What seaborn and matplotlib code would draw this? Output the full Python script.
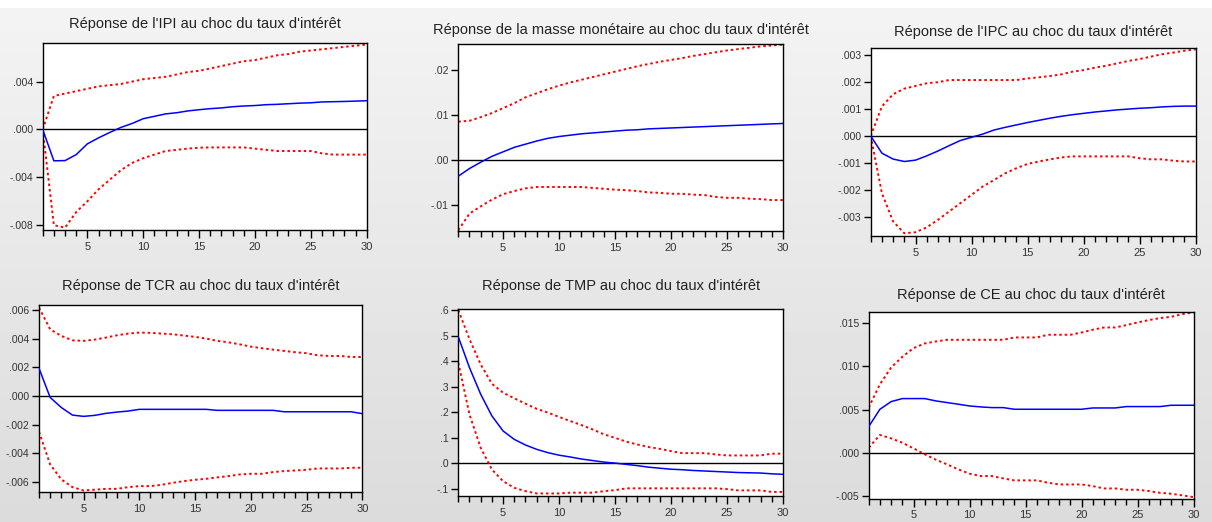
import numpy as np
import pandas as pd
import seaborn as sns
import matplotlib.pyplot as plt
from matplotlib.ticker import FuncFormatter, MultipleLocator

horizons = list(range(1, 31))

# Réponse de l'IPI
ipi_resp = [0, -0.00262, -0.0026, -0.0021, -0.0012, -0.0007, -0.00025, 0.00017, 0.0005, 0.0009,
            0.0011, 0.0013, 0.0014, 0.00155, 0.00165, 0.00174, 0.0018, 0.0019, 0.00196, 0.0020,
            0.00207, 0.0021, 0.00215, 0.0022, 0.00223, 0.0023, 0.00232, 0.00234, 0.00237, 0.0024]
ipi_up = [0, 0.0028, 0.003, 0.0032, 0.0034, 0.0036, 0.0037, 0.0038, 0.004, 0.0042,
          0.0043, 0.0044, 0.0046, 0.0048, 0.0049, 0.0051, 0.0053, 0.0055, 0.0057, 0.0058,
          0.006, 0.0062, 0.0063, 0.0065, 0.0066, 0.0067, 0.0068, 0.0069, 0.007, 0.0071]
ipi_low = [0, -0.008, -0.0082, -0.0069, -0.006, -0.005, -0.0042, -0.0034, -0.0028, -0.0024,
           -0.0021, -0.0018, -0.0017, -0.0016, -0.00152, -0.0015, -0.0015, -0.0015, -0.0015, -0.0016,
           -0.0017, -0.0018, -0.0018, -0.0018, -0.0018, -0.002, -0.0021, -0.0021, -0.0021, -0.0021]

# Réponse de la masse monétaire
mm_resp = [-0.0035, -0.0018, -0.0004, 0.0009, 0.0019, 0.0029, 0.0036, 0.0043, 0.0049, 0.0053,
           0.0056, 0.0059, 0.0061, 0.0063, 0.0065, 0.0067, 0.0068, 0.007, 0.0071, 0.0072,
           0.0073, 0.0074, 0.0075, 0.0076, 0.0077, 0.0078, 0.0079, 0.008, 0.0081, 0.0082]
mm_up = [0.0086, 0.0088, 0.0096, 0.0105, 0.0116, 0.0127, 0.014, 0.0149, 0.0158, 0.0166,
         0.0173, 0.0179, 0.0185, 0.0191, 0.0197, 0.0203, 0.0209, 0.0214, 0.0219, 0.0223,
         0.0227, 0.0232, 0.0236, 0.024, 0.0244, 0.0247, 0.025, 0.0253, 0.0255, 0.0257]
mm_low = [-0.0155, -0.0118, -0.0102, -0.0087, -0.0075, -0.0068, -0.0062, -0.0059, -0.0059, -0.0059,
          -0.0059, -0.0059, -0.0061, -0.0063, -0.0065, -0.0066, -0.0068, -0.0071, -0.0072, -0.0074,
          -0.0074, -0.0076, -0.0077, -0.0081, -0.0083, -0.0083, -0.0085, -0.0086, -0.0088, -0.0088]

# Réponse de l'IPC
ipc_resp = [0, -0.00064, -0.00086, -0.00095, -0.0009, -0.00074, -0.00056, -0.00036, -0.00017, -0.00005,
            0.00007, 0.00022, 0.00032, 0.00041, 0.0005, 0.00058, 0.00066, 0.00073, 0.00079, 0.00084,
            0.00089, 0.00093, 0.00097, 0.001, 0.00103, 0.00105, 0.00108, 0.0011, 0.00111, 0.00111]
ipc_up = [0, 0.0011, 0.00155, 0.00176, 0.00186, 0.00196, 0.002, 0.00208, 0.00208, 0.00208,
          0.00208, 0.00208, 0.00208, 0.00208, 0.00214, 0.00218, 0.00223, 0.00229, 0.00239, 0.00245,
          0.00254, 0.00261, 0.0027, 0.00279, 0.00286, 0.00295, 0.00304, 0.0031, 0.00317, 0.00322]
ipc_low = [0, -0.00213, -0.00318, -0.00362, -0.00358, -0.0034, -0.00312, -0.00281, -0.0025, -0.00219,
           -0.00188, -0.00164, -0.00139, -0.0012, -0.00104, -0.00095, -0.00087, -0.0008, -0.00076, -0.00076,
           -0.00076, -0.00076, -0.00076, -0.00076, -0.00083, -0.00087, -0.00087, -0.00092, -0.00095, -0.00095]

# Réponse de TCR
tcr_resp = [0.00193, -0.0001, -0.0008, -0.00133, -0.00142, -0.00135, -0.00121, -0.00112, -0.00105, -0.00093,
            -0.00093, -0.00093, -0.00093, -0.00093, -0.00093, -0.00093, -0.001, -0.001, -0.001, -0.001,
            -0.001, -0.001, -0.0011, -0.0011, -0.0011, -0.0011, -0.0011, -0.0011, -0.0011, -0.00123]
tcr_up = [0.00616, 0.00465, 0.00419, 0.00388, 0.00384, 0.00393, 0.00407, 0.00423, 0.00435, 0.00442,
          0.0044, 0.00435, 0.0043, 0.00421, 0.00412, 0.004, 0.00384, 0.00374, 0.0036, 0.00344,
          0.00333, 0.00323, 0.00314, 0.00305, 0.00298, 0.00284, 0.00279, 0.00279, 0.00272, 0.00272]
tcr_low = [-0.00249, -0.00477, -0.00581, -0.00635, -0.00658, -0.00653, -0.00647, -0.00647, -0.00635, -0.00628,
           -0.00628, -0.00619, -0.00605, -0.00593, -0.00584, -0.00577, -0.00567, -0.00558, -0.00547, -0.00542,
           -0.00542, -0.0053, -0.00523, -0.00519, -0.00514, -0.00505, -0.00505, -0.00505, -0.005, -0.005]

# Réponse de TMP
tmp_resp = [0.495, 0.374, 0.27, 0.185, 0.126, 0.093, 0.071, 0.054, 0.041, 0.031,
            0.024, 0.016, 0.01, 0.004, 0.0, -0.005, -0.01, -0.016, -0.02, -0.024,
            -0.026, -0.029, -0.031, -0.033, -0.035, -0.037, -0.038, -0.039, -0.042, -0.044]
tmp_up = [0.6, 0.486, 0.387, 0.311, 0.276, 0.254, 0.233, 0.213, 0.198, 0.181,
          0.165, 0.149, 0.132, 0.113, 0.099, 0.084, 0.073, 0.063, 0.056, 0.047,
          0.039, 0.039, 0.039, 0.034, 0.03, 0.03, 0.03, 0.03, 0.037, 0.037]
tmp_low = [0.394, 0.191, 0.06, -0.025, -0.071, -0.097, -0.11, -0.119, -0.119, -0.119,
           -0.116, -0.116, -0.116, -0.11, -0.106, -0.099, -0.099, -0.099, -0.099, -0.099,
           -0.099, -0.099, -0.099, -0.099, -0.102, -0.107, -0.107, -0.107, -0.113, -0.113]

# Réponse de CE
ce_resp = [0.00304, 0.00504, 0.00592, 0.00627, 0.00627, 0.00627, 0.006, 0.00581, 0.00562, 0.00542,
           0.00531, 0.00523, 0.00523, 0.00504, 0.00504, 0.00504, 0.00504, 0.00504, 0.00504, 0.00504,
           0.00519, 0.00519, 0.00519, 0.00535, 0.00535, 0.00535, 0.00535, 0.0055, 0.0055, 0.0055]
ce_up = [0.00523, 0.00792, 0.00985, 0.01108, 0.01208, 0.01262, 0.01285, 0.01304, 0.01304, 0.01304,
         0.01304, 0.01304, 0.01304, 0.01331, 0.01331, 0.01331, 0.01362, 0.01362, 0.01362, 0.01388,
         0.0142, 0.01446, 0.01446, 0.01473, 0.01504, 0.01531, 0.01554, 0.01569, 0.016, 0.01619]
ce_low = [0.00062, 0.00208, 0.00169, 0.00119, 0.00054, -0.00015, -0.00077, -0.00131, -0.00188, -0.00238,
          -0.00265, -0.00265, -0.00292, -0.00315, -0.00315, -0.00315, -0.00342, -0.00362, -0.00362, -0.00362,
          -0.00381, -0.00408, -0.00408, -0.00423, -0.00423, -0.00438, -0.00458, -0.00469, -0.00488, -0.00508]

titles = [
    "Réponse de l'IPI au choc du taux d'intérêt",
    "Réponse de la masse monétaire au choc du taux d'intérêt",
    "Réponse de l'IPC au choc du taux d'intérêt",
    "Réponse de TCR au choc du taux d'intérêt",
    "Réponse de TMP au choc du taux d'intérêt",
    "Réponse de CE au choc du taux d'intérêt",
]
series = [
    (ipi_resp, ipi_up, ipi_low),
    (mm_resp, mm_up, mm_low),
    (ipc_resp, ipc_up, ipc_low),
    (tcr_resp, tcr_up, tcr_low),
    (tmp_resp, tmp_up, tmp_low),
    (ce_resp, ce_up, ce_low),
]
# panel layout in pixels: left, right, top, bottom, title center y
W, H = 1212, 522
boxes = [
    (42.7, 366.7, 42.7, 230.0, 24.0),
    (458.3, 783.0, 43.7, 230.7, 30.0),
    (870.7, 1195.7, 48.3, 235.7, 32.3),
    (39.0, 362.3, 305.3, 492.0, 286.0),
    (458.3, 783.0, 309.3, 496.0, 286.0),
    (868.7, 1193.7, 312.0, 498.7, 295.3),
]
ylims = [(-0.0084, 0.00725), (-0.0156, 0.0259), (-0.00371, 0.00326),
         (-0.00669, 0.00632), (-0.129, 0.603), (-0.00526, 0.01624)]
ysteps = [0.004, 0.01, 0.001, 0.002, 0.1, 0.005]
ydecimals = [3, 2, 3, 3, 1, 3]


def eviews_fmt(dec):
    def f(v, pos):
        s = f"{v:.{dec}f}"
        if s.startswith("-0"):
            s = "-" + s[2:]
        elif s.startswith("0"):
            s = s[1:]
        return s
    return FuncFormatter(f)


sns.set_theme(style="ticks")
plt.rcParams["font.family"] = ["Liberation Sans", "DejaVu Sans"]

fig = plt.figure(figsize=(W / 100, H / 100), dpi=100)

# grey gradient background like the EViews screenshot
bg = fig.add_axes([0, 0, 1, 1])
grad = np.linspace(0.955, 0.86, H).reshape(-1, 1)
grad[:8] = 1.0
bg.imshow(grad, cmap="gray", vmin=0, vmax=1, aspect="auto", extent=(0, 1, 0, 1))
bg.set_axis_off()

for i, (title, (resp, up, low)) in enumerate(zip(titles, series)):
    left, right, top, bottom, ty = boxes[i]
    ax = fig.add_axes([left / W, 1 - bottom / H, (right - left) / W, (bottom - top) / H])
    ax.set_facecolor("white")
    df = pd.DataFrame({"h": horizons, "resp": resp, "up": up, "low": low})
    ax.axhline(0, color="black", linewidth=1.0, zorder=1)
    sns.lineplot(data=df, x="h", y="up", ax=ax, color="#ff0000",
                 linewidth=1.4, linestyle=(0, (1.3, 1.5)), zorder=2)
    sns.lineplot(data=df, x="h", y="low", ax=ax, color="#ff0000",
                 linewidth=1.4, linestyle=(0, (1.3, 1.5)), zorder=2)
    sns.lineplot(data=df, x="h", y="resp", ax=ax, color="#0000ff",
                 linewidth=1.1, zorder=3)
    ax.set_xlim(1, 30)
    ax.set_ylim(*ylims[i])
    ax.xaxis.set_major_locator(MultipleLocator(5))
    ax.xaxis.set_minor_locator(MultipleLocator(1))
    ax.yaxis.set_major_locator(MultipleLocator(ysteps[i]))
    ax.yaxis.set_major_formatter(eviews_fmt(ydecimals[i]))
    ax.tick_params(axis="y", which="major", direction="out", length=5, width=1,
                   labelsize=7.5, labelcolor="#333333", color="black", pad=2)
    ax.tick_params(axis="x", which="major", direction="out", length=6, width=1,
                   labelsize=8, labelcolor="#333333", color="black", pad=2 if i == 5 else 3)
    ax.tick_params(axis="x", which="minor", direction="out", length=4, width=1, color="black")
    ax.set_xlabel("")
    ax.set_ylabel("")
    for sp in ax.spines.values():
        sp.set_color("black")
        sp.set_linewidth(1.0)
    cx = (left + right) / 2 / W
    fig.text(cx, 1 - ty / H, title, ha="center", va="center", fontsize=10.5, color="#222222")

fig.savefig("out.png", dpi=100)
